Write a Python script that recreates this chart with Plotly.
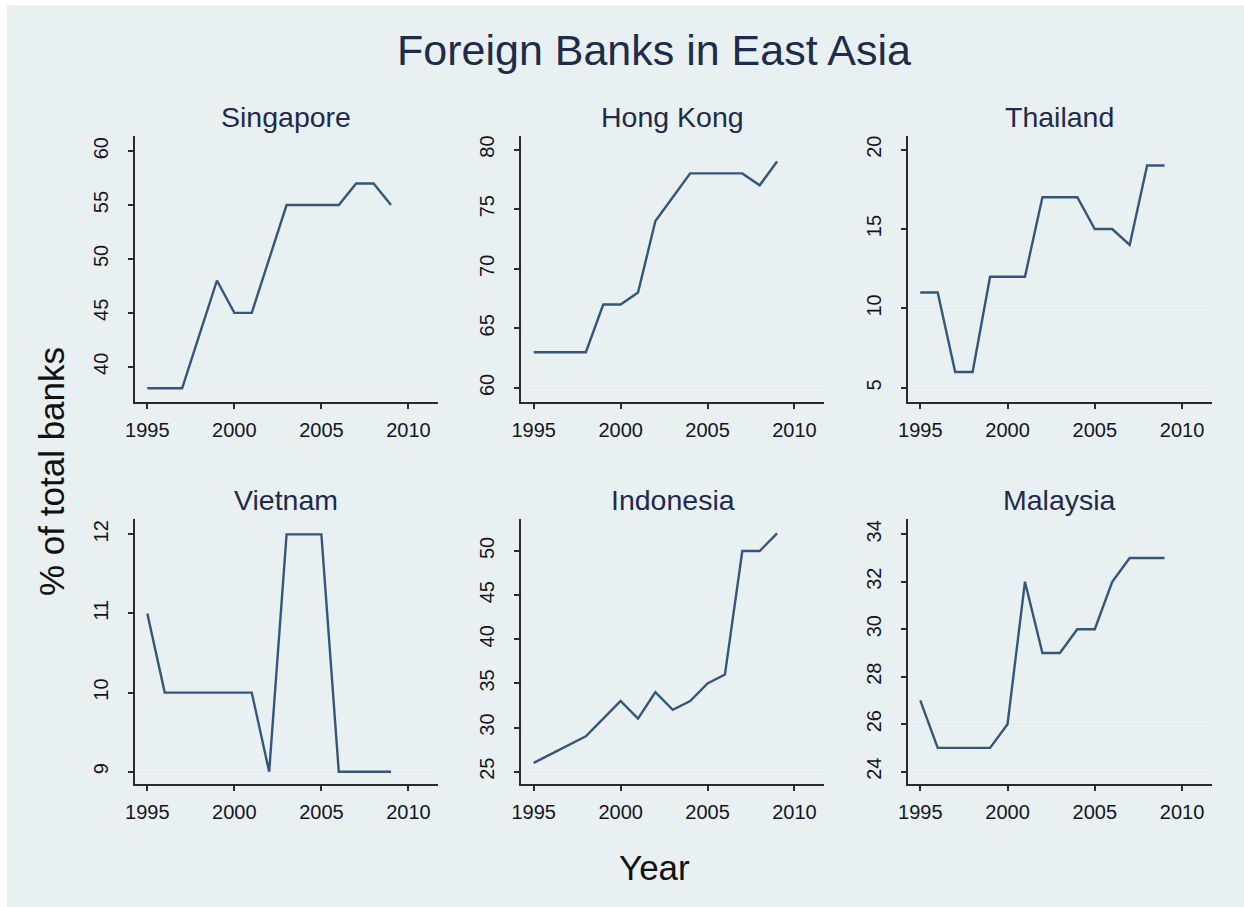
import plotly.graph_objects as go

# ---- data -------------------------------------------------------------
years = list(range(1995, 2010))

countries = ["Singapore", "Hong Kong", "Thailand", "Vietnam", "Indonesia", "Malaysia"]

singapore = [38, 38, 38, 43, 48, 45, 45, 50, 55, 55, 55, 55, 57, 57, 55]
hong_kong = [63, 63, 63, 63, 67, 67, 68, 74, 76, 78, 78, 78, 78, 77, 79]
thailand = [11, 11, 6, 6, 12, 12, 12, 17, 17, 17, 15, 15, 14, 19, 19]
vietnam = [11, 10, 10, 10, 10, 10, 10, 9, 12, 12, 12, 9, 9, 9, 9]
indonesia = [26, 27, 28, 29, 31, 33, 31, 34, 32, 33, 35, 36, 50, 50, 52]
malaysia = [27, 25, 25, 25, 25, 26, 32, 29, 29, 30, 30, 32, 33, 33, 33]

series = [singapore, hong_kong, thailand, vietnam, indonesia, malaysia]

x_ticks = [1995, 2000, 2005, 2010]
y_ticks = [
    [40, 45, 50, 55, 60],
    [60, 65, 70, 75, 80],
    [5, 10, 15, 20],
    [9, 10, 11, 12],
    [25, 30, 35, 40, 45, 50],
    [24, 26, 28, 30, 32, 34],
]
y_ranges = [
    [36.73, 61.45],
    [58.82, 81.18],
    [4.11, 20.89],
    [8.845, 12.19],
    [23.6, 53.59],
    [23.48, 34.63],
]
x_range = [1994.28, 2011.7]

# ---- layout geometry (pixels) -----------------------------------------
W, H = 1244, 907
col_px = [(134.8, 438.0), (521.2, 824.0), (907.7, 1211.7)]
row_px = [(135.5, 402.0), (519.3, 784.0)]

def px_x(v):
    return v / W

def px_y(v):
    return 1 - v / H

BG = "#e8f0f2"
TEXT = "#1f2b4a"
LINE = "#36557a"
AXIS = "#2b2b2b"
GRID = "#e6eef1"
TICKTXT = "#151522"
FONT = "Liberation Sans, Arial, Helvetica, sans-serif"

fig = go.Figure()

layout = dict(
    width=W,
    height=H,
    margin=dict(l=0, r=0, t=0, b=0, autoexpand=False),
    paper_bgcolor="white",
    plot_bgcolor="white",
    showlegend=False,
    font=dict(family=FONT, color=TEXT),
)

annotations = []

for i, (name, vals) in enumerate(zip(countries, series)):
    r, c = divmod(i, 3)
    idx = "" if i == 0 else str(i + 1)
    fig.add_trace(
        go.Scatter(
            x=years,
            y=vals,
            mode="lines",
            line=dict(color=LINE, width=2.4),
            xaxis="x" + idx,
            yaxis="y" + idx,
            hoverinfo="x+y",
        )
    )
    x0, x1 = col_px[c]
    y0, y1 = row_px[r]
    layout["xaxis" + idx] = dict(
        domain=[px_x(x0), px_x(x1)],
        anchor="y" + idx,
        range=x_range,
        tickvals=x_ticks,
        ticks="outside",
        ticklen=5,
        tickwidth=1.5,
        tickcolor=AXIS,
        showline=True,
        linecolor=AXIS,
        linewidth=1.8,
        showgrid=False,
        zeroline=False,
        automargin=False,
        ticklabelstandoff=4,
        tickfont=dict(size=20, color=TICKTXT, family=FONT),
    )
    layout["yaxis" + idx] = dict(
        domain=[px_y(y1), px_y(y0)],
        anchor="x" + idx,
        range=y_ranges[i],
        tickvals=y_ticks[i],
        ticks="outside",
        ticklen=5,
        tickwidth=1.5,
        tickcolor=AXIS,
        tickangle=-90,
        showline=True,
        linecolor=AXIS,
        linewidth=1.8,
        showgrid=True,
        gridcolor=GRID,
        gridwidth=1.5,
        zeroline=False,
        automargin=False,
        ticklabelstandoff=12,
        tickfont=dict(size=20, color=TICKTXT, family=FONT),
    )
    title_y = 116.5 if r == 0 else 499.5
    annotations.append(
        dict(
            text=name,
            x=px_x((x0 + x1) / 2),
            y=px_y(title_y),
            xref="paper",
            yref="paper",
            xanchor="center",
            yanchor="middle",
            showarrow=False,
            font=dict(size=28.5, color=TEXT, family=FONT),
        )
    )

# main title and shared axis titles
annotations.append(
    dict(
        text="Foreign Banks in East Asia",
        x=px_x(653.5),
        y=px_y(50),
        xref="paper",
        yref="paper",
        xanchor="center",
        yanchor="middle",
        showarrow=False,
        font=dict(size=43, color=TEXT, family=FONT),
    )
)
annotations.append(
    dict(
        text="Year",
        x=px_x(654),
        y=px_y(867),
        xref="paper",
        yref="paper",
        xanchor="center",
        yanchor="middle",
        showarrow=False,
        font=dict(size=35, color="#111111", family=FONT),
    )
)
annotations.append(
    dict(
        text="% of total banks",
        x=px_x(51),
        y=px_y(472),
        xref="paper",
        yref="paper",
        xanchor="center",
        yanchor="middle",
        textangle=-90,
        showarrow=False,
        font=dict(size=35, color="#111111", family=FONT),
    )
)

layout["annotations"] = annotations
layout["shapes"] = [
    dict(
        type="rect",
        xref="paper",
        yref="paper",
        x0=px_x(7),
        x1=1,
        y0=0,
        y1=px_y(5),
        fillcolor=BG,
        line=dict(width=0),
        layer="below",
    )
]

fig.update_layout(**layout)

# let the page background continue the graph region colour past the figure
page_style = (
    "document.body.style.margin='0';"
    "document.body.style.background='" + BG + "';"
)
fig.write_html("out.html", post_script=page_style)
